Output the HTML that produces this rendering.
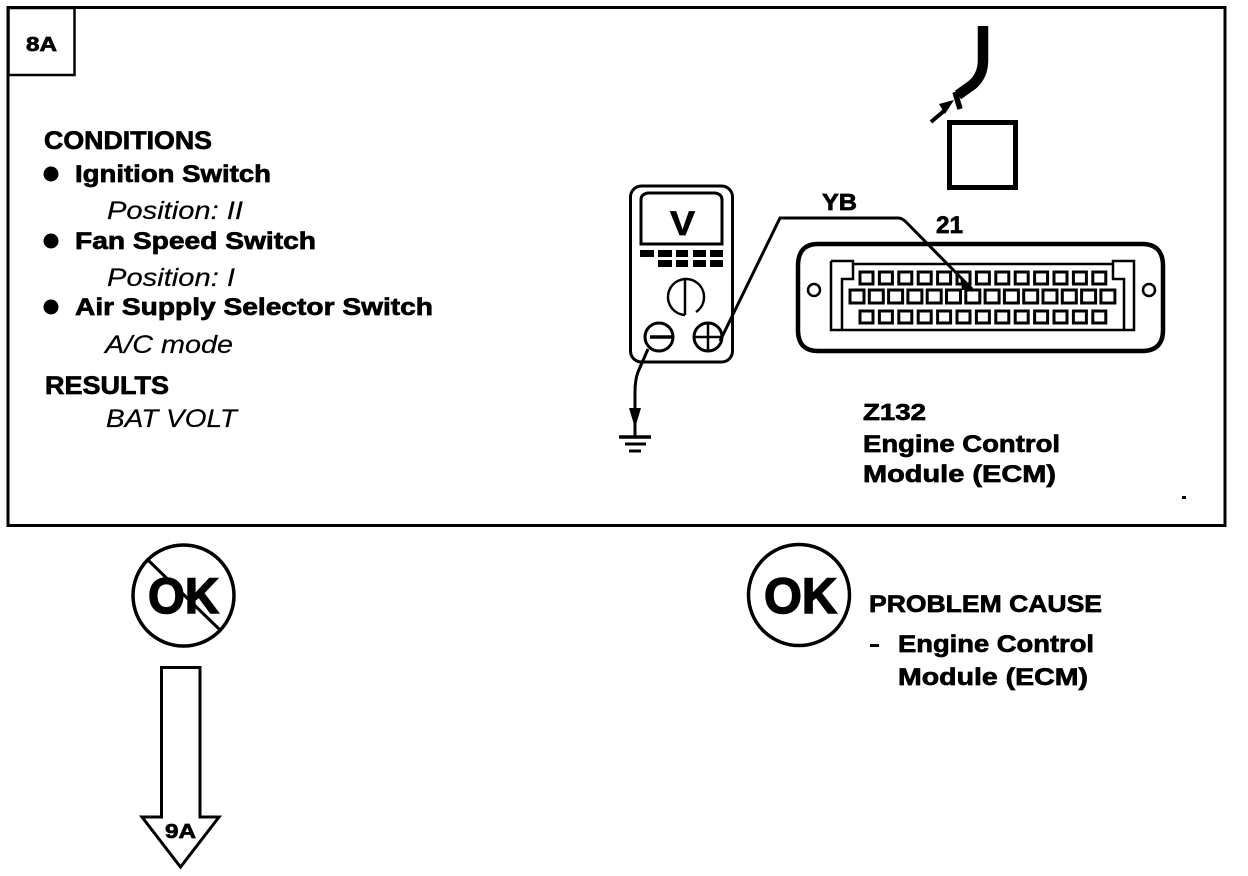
<!DOCTYPE html>
<html>
<head>
<meta charset="utf-8">
<style>
html,body{margin:0;padding:0;background:#fff;}
svg{display:block;}
text{font-family:"Liberation Sans",sans-serif;fill:#000;}
.b{font-weight:bold;stroke:#000;stroke-width:.7px;}
.i{font-style:italic;stroke:#000;stroke-width:.2px;}
.k{font-weight:bold;stroke:#000;stroke-width:1.5px;}
</style>
</head>
<body>
<svg width="1248" height="876" viewBox="0 0 1248 876" xmlns="http://www.w3.org/2000/svg">
<rect x="0" y="0" width="1248" height="876" fill="#fff"/>
<rect x="8" y="7.500" width="1217" height="518" fill="none" stroke="#000" stroke-width="3"/>
<rect x="8.500" y="8" width="66" height="67" fill="none" stroke="#000" stroke-width="2.500"/>
<text class="b" x="26" y="51" font-size="20" textLength="31" lengthAdjust="spacingAndGlyphs">8A</text>

<text class="b" x="44" y="149" font-size="25" textLength="168" lengthAdjust="spacingAndGlyphs">CONDITIONS</text>
<circle cx="51" cy="174" r="7.500"/>
<text class="b" x="75" y="182" font-size="24" textLength="196" lengthAdjust="spacingAndGlyphs">Ignition Switch</text>
<text class="i" x="107" y="219" font-size="25" textLength="136" lengthAdjust="spacingAndGlyphs">Position: II</text>
<circle cx="51" cy="241" r="7.500"/>
<text class="b" x="75" y="249" font-size="24" textLength="241" lengthAdjust="spacingAndGlyphs">Fan Speed Switch</text>
<text class="i" x="107" y="286" font-size="25" textLength="128" lengthAdjust="spacingAndGlyphs">Position: I</text>
<circle cx="51" cy="307" r="7.500"/>
<text class="b" x="75" y="315" font-size="24" textLength="358" lengthAdjust="spacingAndGlyphs">Air Supply Selector Switch</text>
<text class="i" x="105" y="353" font-size="25" textLength="128" lengthAdjust="spacingAndGlyphs">A/C mode</text>
<text class="b" x="45" y="394" font-size="25" textLength="124" lengthAdjust="spacingAndGlyphs">RESULTS</text>
<text class="i" x="106" y="427" font-size="25" textLength="131" lengthAdjust="spacingAndGlyphs">BAT VOLT</text>

<!-- cable and square -->
<path d="M983 26V60Q983 76 972 85L958 95" fill="none" stroke="#000" stroke-width="10.500"/>
<path d="M955 92L960 109" stroke="#000" stroke-width="5.500" fill="none"/>
<path d="M931 122L945 110" stroke="#000" stroke-width="4" fill="none"/>
<path d="M954 100L939 104L945 114Z"/>
<rect x="949.500" y="122.500" width="66" height="65" fill="none" stroke="#000" stroke-width="5"/>

<!-- meter -->
<rect x="630.500" y="186" width="102" height="176" rx="11" fill="#fff" stroke="#000" stroke-width="3"/>
<path d="M641 244V200Q641 194 648 193H715Q722 194 722 200V244Z" fill="none" stroke="#000" stroke-width="3"/>
<text class="b" x="670" y="235" font-size="34" textLength="25" lengthAdjust="spacingAndGlyphs">V</text>
<path d="M640 250h14v7h-14zM658 250h14v7h-14zM676 250h12v7h-12zM693 250h13v7h-13zM710 250h13v7h-13zM658 260h14v7h-14zM676 260h12v7h-12zM693 260h13v7h-13zM710 260h13v7h-13z"/>
<path d="M685 315A18 18 0 1 1 696 312" fill="none" stroke="#000" stroke-width="2.500"/>
<path d="M685 278V315" stroke="#000" stroke-width="2.500"/>
<circle cx="659" cy="337" r="14" fill="#fff" stroke="#000" stroke-width="3"/>
<path d="M650 337H672" stroke="#000" stroke-width="3.500"/>
<circle cx="708" cy="337" r="14" fill="#fff" stroke="#000" stroke-width="3"/>
<path d="M694 337H722M708 323V351" stroke="#000" stroke-width="2.500"/>
<path d="M648 349L638 372Q635 380 635 392V436" fill="none" stroke="#000" stroke-width="3"/>
<path d="M629 408H641L635 428Z"/>
<path d="M619 437H651" stroke="#000" stroke-width="3.500"/>
<path d="M625 444H646" stroke="#000" stroke-width="3"/>
<path d="M629 451H641" stroke="#000" stroke-width="3"/>

<!-- connector -->
<path d="M818 244H1142Q1163 244 1163 266V330Q1163 351 1142 351H818Q798 351 798 330V266Q798 244 818 244Z" fill="#fff" stroke="#000" stroke-width="4.500"/>
<circle cx="814" cy="290" r="6" fill="#fff" stroke="#000" stroke-width="2.500"/>
<circle cx="1149" cy="290" r="6" fill="#fff" stroke="#000" stroke-width="2.500"/>
<path d="M831 261H853V279H842V329M1124 329V279H1113V261H1134V330H831V261M853 264H1113" fill="none" stroke="#000" stroke-width="2.500"/>
<path fill="none" stroke="#000" stroke-width="3" d="M860 272h13v12h-13zm19.400 0h13v12h-13zm19.400 0h13v12h-13zm19.400 0h13v12h-13zm19.400 0h13v12h-13zm19.400 0h13v12h-13zm19.400 0h13v12h-13zm19.400 0h13v12h-13zm19.400 0h13v12h-13zm19.400 0h13v12h-13zm19.400 0h13v12h-13zm19.400 0h13v12h-13zm19.400 0h13v12h-13z"/>
<path fill="none" stroke="#000" stroke-width="3" d="M850 290h14v13h-14zm19.300 0h14v13h-14zm19.300 0h14v13h-14zm19.300 0h14v13h-14zm19.300 0h14v13h-14zm19.300 0h14v13h-14zm19.300 0h14v13h-14zm19.300 0h14v13h-14zm19.300 0h14v13h-14zm19.300 0h14v13h-14zm19.300 0h14v13h-14zm19.300 0h14v13h-14zm19.300 0h14v13h-14zm19.300 0h14v13h-14z"/>
<path fill="none" stroke="#000" stroke-width="3" d="M860 311h13v12h-13zm19.400 0h13v12h-13zm19.400 0h13v12h-13zm19.400 0h13v12h-13zm19.400 0h13v12h-13zm19.400 0h13v12h-13zm19.400 0h13v12h-13zm19.400 0h13v12h-13zm19.400 0h13v12h-13zm19.400 0h13v12h-13zm19.400 0h13v12h-13zm19.400 0h13v12h-13zm19.400 0h13v12h-13z"/>
<path d="M720 341L780 218H898Q902 218 906 222L972 289" fill="none" stroke="#000" stroke-width="3"/>
<path d="M960 276L972 290H962Z"/>
<text class="b" x="822" y="210" font-size="23" textLength="35" lengthAdjust="spacingAndGlyphs">YB</text>
<text class="b" x="936" y="233" font-size="24" textLength="27" lengthAdjust="spacingAndGlyphs">21</text>

<text class="b" x="863" y="420" font-size="23" textLength="63" lengthAdjust="spacingAndGlyphs">Z132</text>
<text class="b" x="863" y="452" font-size="24" textLength="197" lengthAdjust="spacingAndGlyphs">Engine Control</text>
<text class="b" x="863" y="482" font-size="24" textLength="193" lengthAdjust="spacingAndGlyphs">Module (ECM)</text>
<rect x="1182" y="496" width="4" height="3"/>

<!-- NOT OK -->
<circle cx="183.500" cy="595.500" r="50.500" fill="none" stroke="#000" stroke-width="3.500"/>
<path d="M149 561L219 629" stroke="#000" stroke-width="3"/>
<text class="k" x="148" y="613" font-size="50" textLength="71" lengthAdjust="spacingAndGlyphs">OK</text>
<path d="M161.500 667.500H200V817H219L180.500 867L142 817H161.500Z" fill="#fff" stroke="#000" stroke-width="3"/>
<text class="b" x="165" y="838" font-size="20" textLength="31" lengthAdjust="spacingAndGlyphs">9A</text>

<!-- OK -->
<circle cx="799" cy="595" r="50.500" fill="none" stroke="#000" stroke-width="3.500"/>
<text class="k" x="764" y="613" font-size="50" textLength="73" lengthAdjust="spacingAndGlyphs">OK</text>
<text class="b" x="869" y="612" font-size="24" textLength="233" lengthAdjust="spacingAndGlyphs">PROBLEM CAUSE</text>
<rect x="870" y="644" width="9" height="3"/>
<text class="b" x="898" y="652" font-size="24" textLength="196" lengthAdjust="spacingAndGlyphs">Engine Control</text>
<text class="b" x="898" y="685" font-size="24" textLength="190" lengthAdjust="spacingAndGlyphs">Module (ECM)</text>
</svg>
</body>
</html>
